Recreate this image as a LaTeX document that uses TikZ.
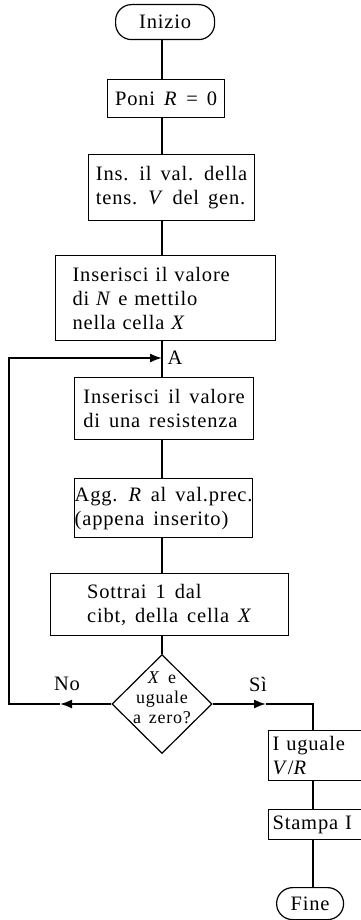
\documentclass[tikz,border=0pt]{standalone}
\usepackage{fontspec}
\setmainfont{Liberation Serif}[LetterSpace=4,WordSpace=1.5]
\usetikzlibrary{arrows.meta,positioning,shapes.geometric}

\begin{document}
\begin{tikzpicture}[x=1pt,y=-1pt, every node/.style={font=\fontsize{20.5}{24}\selectfont},
  box/.style={draw,line width=1.2pt,anchor=north west,align=left,inner sep=0pt},
  term/.style={draw,line width=1.2pt,rounded corners=16pt,anchor=north west,inner sep=0pt},
  flow/.style={line width=1.7pt},
  arr/.style={flow,-{Latex[length=12pt,width=9pt]}}]
\useasboundingbox (0,0) rectangle (360,920);
\node[term,minimum width=99pt,minimum height=35pt] (inizio) at (115,4) {Inizio};
\node[box,minimum width=117pt,minimum height=38pt] (poni) at (107,79) {Poni \textit{R} = 0};
\node[box,minimum width=166pt,minimum height=66pt] (tens) at (88,154) {Ins. il val. della\\tens. \textit{V} del gen.};
\node[box,text width=186pt,inner xsep=17pt,minimum height=85pt] (cella) at (55,255) {Inserisci il valore\\di \textit{N} e mettilo\\nella cella \textit{X}};
\node[box,minimum width=179pt,minimum height=62pt] (resist) at (74,377) {Inserisci il valore\\di una resistenza};
\node[box,minimum width=178pt,minimum height=59pt] (somma) at (74,478) {Agg. \textit{R} al val.prec.\\(appena inserito)};
\node[box,minimum width=238pt,minimum height=62pt] (sottrai) at (50,573) {Sottrai 1 dal\\cibt, della cella \textit{X}};
\node[draw,diamond,line width=1.2pt,minimum width=100pt,minimum height=99pt,inner sep=0pt] (zero) at (162,704) {};
\node[align=center,font=\fontsize{18}{20}\selectfont] (zerotxt) at (162,698) {\textit{X} e\\uguale\\a zero?};
\node (no) at (67,684) {No};
\node (si) at (258,684) {Sì};
\node[box,text width=92pt,inner xsep=4pt,minimum height=50pt] (corr) at (268,730) {I uguale\\\textit{V}/\textit{R}};
\node[box,text width=92pt,inner xsep=4pt,minimum height=30pt] (stampa) at (268,809) {Stampa I};
\node[term,minimum width=67pt,minimum height=32pt] (fine) at (276,887) {Fine};
\node (lblA) at (175,358) {A};

\coordinate (mx) at (162,0);
\coordinate (sx) at (313,0);
\coordinate (A) at (162,358);
\coordinate (noarr) at (60,704);
\coordinate (loop) at (9,704);
\coordinate (siarr) at (266,704);

\draw[flow] (inizio.south -| mx) -- (poni.north -| mx);
\draw[flow] (poni.south -| mx) -- (tens.north -| mx);
\draw[flow] (tens.south -| mx) -- (cella.north -| mx);
\draw[flow] (cella.south -| mx) -- (resist.north -| mx);
\draw[flow] (resist.south -| mx) -- (somma.north -| mx);
\draw[flow] (somma.south -| mx) -- (sottrai.north -| mx);
\draw[flow] (sottrai.south -| mx) -- (zero.north);
% ramo No: torna ad A
\draw[arr] (zero.west) -- (noarr);
\draw[arr] (noarr) -- (loop) |- (A);
% ramo Si
\draw[arr] (zero.east) -- (siarr);
\draw[flow] (siarr) -| (corr.north -| sx);
\draw[flow] (corr.south -| sx) -- (stampa.north -| sx);
\draw[flow] (stampa.south -| sx) -- (fine.north -| sx);
\end{tikzpicture}
\end{document}
